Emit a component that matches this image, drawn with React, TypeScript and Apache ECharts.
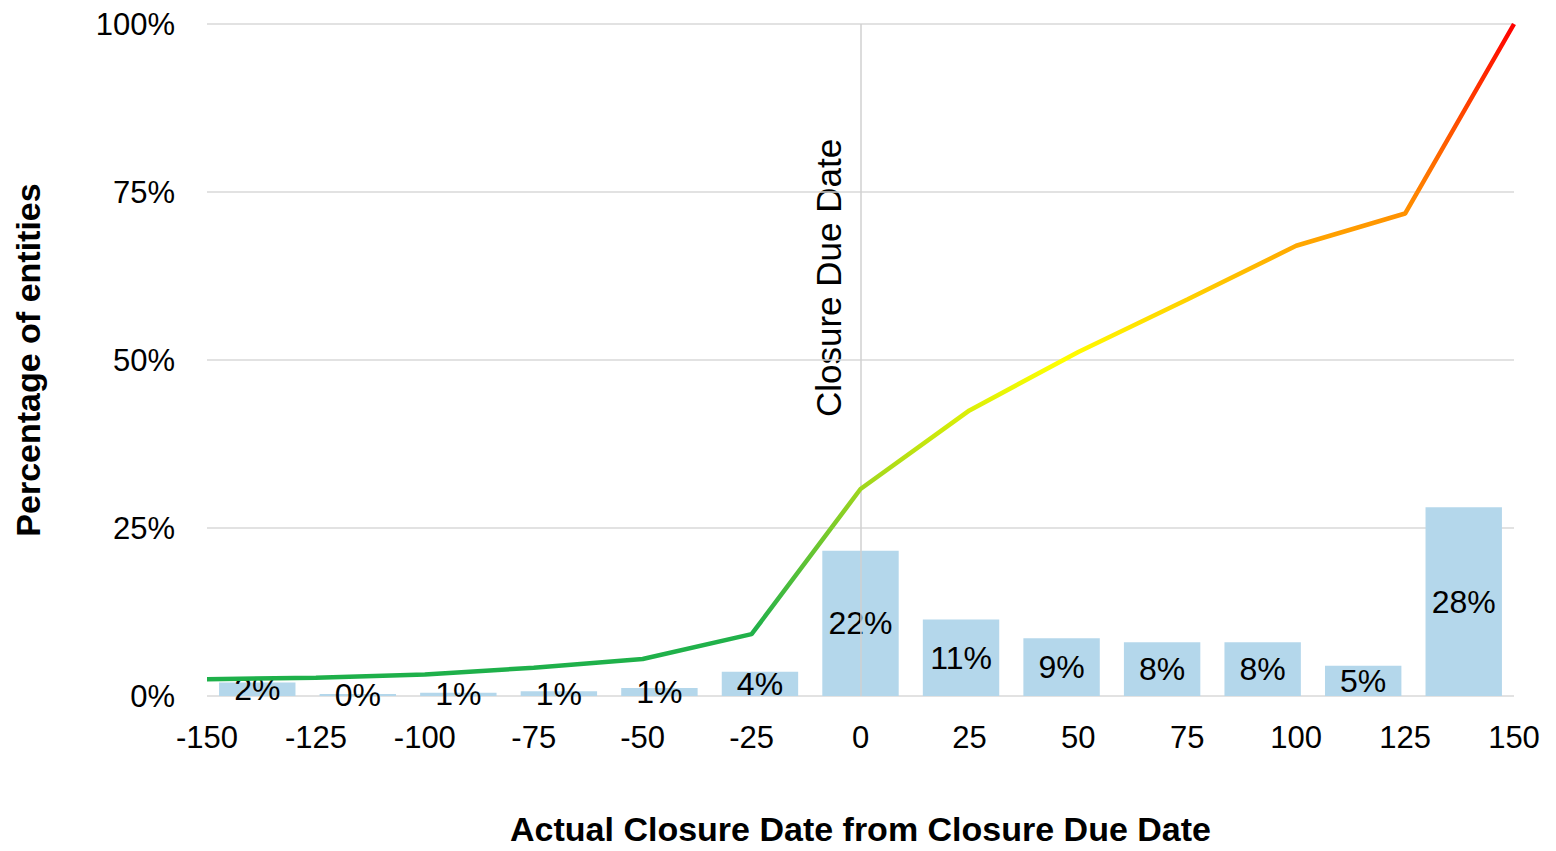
import React, { useEffect, useRef } from "react";
import * as echarts from "echarts";

const categories = ["-137.5", "-112.5", "-87.5", "-62.5", "-37.5", "-12.5", "12.5", "37.5", "62.5", "87.5", "112.5", "137.5", "162.5"];
const barValues = [2.0, 0.3, 0.5, 0.7, 1.2, 3.6, 21.6, 11.4, 8.6, 8.0, 8.0, 4.5, 28.1];
const lineX = [-150, -125, -100, -75, -50, -25, 0, 25, 50, 75, 100, 125, 150];
const lineValues = [2.5, 2.7, 3.2, 4.2, 5.5, 9.2, 30.8, 42.5, 51.2, 59.0, 67.0, 71.8, 100];
const markerX = 0;
const markerLabel = "Closure Due Date";
const xTitle = "Actual Closure Date from Closure Due Date";
const yTitle = "Percentage of entities";

const FONT = "Arial, 'Liberation Sans', sans-serif";

export default function App() {
  const ref = useRef<HTMLDivElement>(null);
  useEffect(() => {
    document.body.style.margin = "0";
    if (!ref.current) return;
    const chart = echarts.init(ref.current, undefined, { renderer: "svg" });
    chart.setOption({
      animation: false,
      backgroundColor: "#ffffff",
      textStyle: { fontFamily: FONT },
      grid: { left: 207, right: 42, top: 24, bottom: 148, containLabel: false },
      xAxis: [
        {
          type: "category",
          data: categories,
          show: false,
          boundaryGap: true,
        },
        {
          type: "value",
          min: -150,
          max: 150,
          interval: 25,
          position: "bottom",
          axisLine: { show: false },
          axisTick: { show: false },
          splitLine: { show: false },
          axisLabel: { color: "#000", fontSize: 31, margin: 26, fontFamily: FONT },
          name: xTitle,
          nameLocation: "middle",
          nameGap: 116,
          nameTextStyle: { color: "#000", fontSize: 34, fontWeight: "bold", fontFamily: FONT },
        },
      ],
      yAxis: {
        type: "value",
        min: 0,
        max: 100,
        interval: 25,
        axisLine: { show: false },
        axisTick: { show: false },
        splitLine: { lineStyle: { color: "#d9d9d9", width: 1.5 } },
        axisLabel: { color: "#000", fontSize: 31, margin: 32, formatter: "{value}%", fontFamily: FONT },
        name: yTitle,
        nameLocation: "middle",
        nameGap: 162,
        nameTextStyle: { color: "#000", fontSize: 34, fontWeight: "bold", fontFamily: FONT },
      },
      visualMap: {
        type: "continuous",
        show: false,
        seriesIndex: 1,
        dimension: 1,
        min: 0,
        max: 100,
        inRange: {
          color: ["#1cb04a", "#22b14a", "#5ec235", "#9ad41f", "#d0ea0a", "#ffff00", "#ffcc00", "#ff9900", "#ff6a00", "#ff3500", "#ff0000"],
        },
      },
      series: [
        {
          type: "bar",
          xAxisIndex: 0,
          data: barValues,
          barCategoryGap: "24%",
          itemStyle: { color: "#b4d7eb" },
          label: {
            show: true,
            position: "inside",
            color: "#000",
            fontSize: 32,
            fontFamily: FONT,
            formatter: (p: any) => Math.round(p.value) + "%",
          },
          z: 1,
        },
        {
          type: "line",
          xAxisIndex: 1,
          data: lineX.map((x, i) => [x, lineValues[i]]),
          symbol: "none",
          lineStyle: { width: 4.5 },
          z: 3,
          markLine: {
            silent: true,
            symbol: "none",
            label: { show: false },
            lineStyle: { color: "#d0d0d0", width: 1.5, type: "solid" },
            data: [{ xAxis: markerX }],
            z: 2,
          },
        },
      ],
      graphic: [
        {
          type: "text",
          x: 828,
          y: 278,
          rotation: Math.PI / 2,
          style: {
            text: markerLabel,
            fontSize: 35,
            fontFamily: FONT,
            fill: "#000",
            align: "center",
            verticalAlign: "middle",
          },
        },
      ],
    });
    return () => chart.dispose();
  }, []);
  return <div ref={ref} style={{ width: 1556, height: 851 }} />;
}
